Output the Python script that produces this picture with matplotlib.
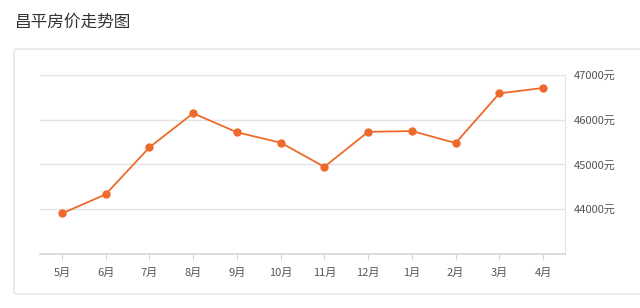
import matplotlib
matplotlib.use("Agg")
import matplotlib.pyplot as plt
from matplotlib.patches import FancyBboxPatch
from matplotlib.ticker import FixedLocator

plt.rcParams['font.family'] = ['Noto Sans CJK SC', 'DejaVu Sans']

months = ['5月', '6月', '7月', '8月', '9月', '10月', '11月', '12月', '1月', '2月', '3月', '4月']
prices = [43906, 44331, 45382, 46145, 45720, 45488, 44948, 45730, 45747, 45480, 46590, 46710]
ytick_vals = [44000, 45000, 46000, 47000]
ytick_labels = ['44000元', '45000元', '46000元', '47000元']

W, H = 640, 308
fig = plt.figure(figsize=(W / 100, H / 100), dpi=100)
fig.patch.set_facecolor('white')

# card border
card = FancyBboxPatch((14 / W, 1 - 294 / H), 660 / W, 245 / H,
                      boxstyle="round,pad=0,rounding_size=0.006",
                      transform=fig.transFigure, facecolor='none',
                      edgecolor='#e3e3e3', linewidth=1.0, zorder=-1)
fig.patches.append(card)

fig.text(14 / W, 1 - 22 / H, '昌平房价走势图', fontsize=12, color='#333333',
         ha='left', va='center')

ax = fig.add_axes([40 / W, 1 - 254 / H, 525 / W, 179 / H])
ax.set_facecolor('none')
x = list(range(len(months)))
ax.plot(x, prices, color='#EE6A2C', linewidth=1.3, marker='o', markersize=5,
        zorder=3)

ax.set_xlim(-0.5, len(months) - 0.5)
ax.set_ylim(43000, 47000)
ax.set_xticks(x)
ax.set_xticklabels(months)
ax.yaxis.set_major_locator(FixedLocator(ytick_vals))
ax.set_yticklabels(ytick_labels)
ax.yaxis.tick_right()

for v in ytick_vals:
    ax.axhline(v, color='#e3e3e3', linewidth=1.0, zorder=1)

for s in ['top', 'left']:
    ax.spines[s].set_visible(False)
ax.spines['right'].set_color('#e3e3e3')
ax.spines['bottom'].set_color('#d6d6d6')
ax.spines['bottom'].set_linewidth(1.2)

ax.tick_params(axis='y', length=0, pad=6, labelsize=8, labelcolor='#555555')
ax.tick_params(axis='x', length=4, width=0.8, color='#d6d6d6', pad=6,
               labelsize=8, labelcolor='#555555')

fig.savefig('out.png', dpi=100)
